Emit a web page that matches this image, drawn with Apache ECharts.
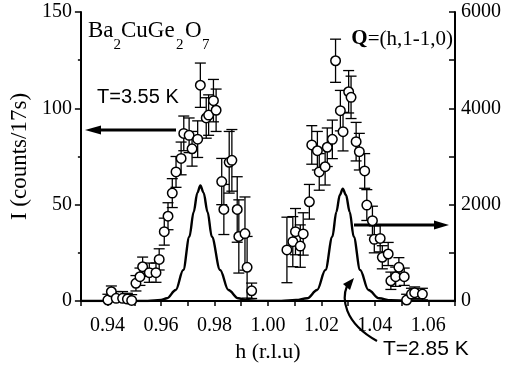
<!DOCTYPE html>
<html><head><meta charset="utf-8">
<script src="https://cdn.jsdelivr.net/npm/echarts@6/dist/echarts.min.js"></script>
<style>html,body{margin:0;padding:0;background:#fff}#c{width:506px;height:376px}</style>
</head><body><div id="c"></div>
<script>
// measured points (h, intensity, error) at T=3.55 K
const hVals = [0.9401,0.9414,0.9432,0.9456,0.9474,0.9490,0.9506,0.9521,0.9531,0.9556,0.9581,0.9593,0.9612,0.9626,0.9642,0.9656,0.9675,0.9685,0.9705,0.9716,0.9737,0.9747,0.9769,0.9778,0.9796,0.9806,0.9827,0.9835,0.9855,0.9865,0.9885,0.9891,0.9914,0.9922,0.9939,
  1.0071,1.0093,1.0103,1.0121,1.0132,1.0155,1.0164,1.0185,1.0192,1.0214,1.0222,1.0241,1.0253,1.0271,1.0281,1.0302,1.0311,1.0330,1.0342,1.0362,1.0370,1.0391,1.0398,1.0420,1.0428,1.0450,1.0460,1.0478,1.0490,1.0510,1.0519,1.0537,1.0549,1.0578];
const iVals = [0.5,4.8,1.4,1.4,1.0,0.3,9.2,12.6,17.8,14.7,14.7,21.6,36,44,56,67,74,87,86,79,84,112,95,96.5,104,99,62,47.5,72,73,47.5,33.5,35,17.5,5.3,
  26.5,30.8,36,28.5,34.8,51.5,81,78,67,69.7,79.8,83.9,124.7,98.8,87.9,108.6,105.7,82.7,77.5,67.5,49.8,41.7,32,32.5,22.7,24.4,10.5,12.6,17.5,12.6,0.5,3.6,4.3,3.6];
const eVals = [3,3,3.5,3.5,3,3,4,4.5,5,5,5,5.5,7,7,7.5,8,8.5,9,9,9,9.5,11.5,10.5,10.5,11,11,12,13,16,16,17,19,19,16,4,
  17,13,12,11,11,9,10,10,9.5,9.5,10,10,11.2,10.5,10,11,11,10,9.5,9,8,7.5,7,7,6,6,4.5,5,5,4.5,3,3,3,3];
// calculated curve at T=2.85 K (right axis)
const curveH = [0.930,0.955,0.960,0.9622,0.9655,0.9683,0.9706,0.9722,0.9736,0.9747,0.9759,0.9774,0.9790,0.9821,0.9852,0.9889,0.9917,0.996,1.005,1.0105,1.0147,1.0184,1.0215,1.0241,1.0256,1.0269,1.028,1.0292,1.0306,1.0321,1.0345,1.0376,1.0416,1.046,1.052,1.070];
const curveI = [0,0,20,56,228,643,1335,1850,2250,2400,2250,1850,1335,643,228,56,20,3,3,20,56,228,643,1335,1850,2200,2330,2200,1850,1335,643,228,56,15,3,0];
const xTickLabels = ['0.94','0.96','0.98','1.00','1.02','1.04','1.06'];
const yLeftTicks = ['0','50','100','150'];
const yRightTicks = ['0','2000','4000','6000'];

const SERIF = '"Liberation Serif", "Times New Roman", serif';
const SANS = '"Liberation Sans", Arial, sans-serif';
const chart = echarts.init(document.getElementById('c'), null, {renderer:'canvas'});

const pts = hVals.map((h,i)=>[h, iVals[i], eVals[i]]);
const curve = curveH.map((h,i)=>[h, curveI[i]]);

const axLine = {show:true, lineStyle:{color:'#000', width:2}};
const lblStyle = {color:'#000', fontFamily:SERIF, fontSize:20};

function txt(t, x, y, size){ return {type:'text', x:x, y:y, style:{text:t, font: size+'px '+SERIF, fill:'#000', verticalAlign:'middle', align:'left'}}; }

const option = {
  animation:false,
  backgroundColor:'#fff',
  grid:{left:77, right:51, top:12, bottom:75, containLabel:false},
  xAxis:[{
    type:'value', min:0.93, max:1.07, interval:0.01, position:'bottom',
    axisLine:axLine, splitLine:{show:false},
    axisTick:{show:true, inside:false, length:5, lineStyle:{color:'#000', width:1.5}},
    axisLabel:Object.assign({margin:15, showMinLabel:true, showMaxLabel:true, formatter:function(v){
      const s = v.toFixed(2); return xTickLabels.indexOf(s) >= 0 ? s : '';
    }}, lblStyle),
    name:'h (r.l.u)', nameLocation:'middle', nameGap:40,
    nameTextStyle:{color:'#000', fontFamily:SERIF, fontSize:22}
  },{
    type:'value', min:0.93, max:1.07, position:'top',
    axisLine:axLine, axisTick:{show:false}, axisLabel:{show:false}, splitLine:{show:false}
  }],
  yAxis:[{
    type:'value', min:0, max:150, interval:50, position:'left',
    axisLine:axLine, splitLine:{show:false},
    axisTick:{show:true, length:6, lineStyle:{color:'#000', width:1.5}},
    minorTick:{show:true, splitNumber:2, length:3, lineStyle:{color:'#000', width:1.5}},
    axisLabel:Object.assign({margin:9, formatter:function(v){const s=String(Math.round(v)); return yLeftTicks.indexOf(s)>=0?s:'';}}, lblStyle),
    name:'I (counts/17s)', nameLocation:'middle', nameGap:46, nameRotate:90,
    nameTextStyle:{color:'#000', fontFamily:SERIF, fontSize:23}
  },{
    type:'value', min:0, max:6000, interval:2000, position:'right',
    axisLine:axLine, splitLine:{show:false},
    axisTick:{show:true, inside:true, length:6, lineStyle:{color:'#000', width:1.5}},
    minorTick:{show:true, splitNumber:2, length:6, lineStyle:{color:'#000', width:1.5}},
    axisLabel:Object.assign({margin:6, formatter:function(v){const s=String(Math.round(v)); return yRightTicks.indexOf(s)>=0?s:'';}}, lblStyle)
  }],
  series:[{
    type:'line', xAxisIndex:0, yAxisIndex:1, data:curve, smooth:0.35, smoothMonotone:'x',
    showSymbol:false, symbol:'none', lineStyle:{color:'#000', width:2.4}, z:2
  },{
    type:'custom', xAxisIndex:0, yAxisIndex:0, data:pts, z:3,
    renderItem:function(params, api){
      const x = api.value(0), y = api.value(1), e = api.value(2);
      const top = api.coord([x, y+e]);
      const bot = api.coord([x, Math.max(0, y-e)]);
      const cw = 5.5;
      const st = {stroke:'#000', lineWidth:1.3};
      return {type:'group', children:[
        {type:'line', shape:{x1:top[0], y1:top[1], x2:bot[0], y2:bot[1]}, style:st},
        {type:'line', shape:{x1:top[0]-cw, y1:top[1], x2:top[0]+cw, y2:top[1]}, style:st},
        {type:'line', shape:{x1:bot[0]-cw, y1:bot[1], x2:bot[0]+cw, y2:bot[1]}, style:st}
      ]};
    }
  },{
    type:'scatter', xAxisIndex:0, yAxisIndex:0, data:pts.map(p=>[p[0],p[1]]), z:4,
    symbol:'circle', symbolSize:9.5,
    itemStyle:{color:'#fff', borderColor:'#000', borderWidth:1.5, opacity:1}
  }],
  graphic:[
    // compound name Ba2CuGe2O7
    txt('Ba',88,31,23), txt('2',113.5,45.5,15),
    txt('CuGe',121,31,23), txt('2',176,45.5,15),
    txt('O',185,31,23), txt('7',202,45.5,15),
    {type:'text', x:453, y:39, style:{text:'{q|Q}{n|=(h,1-1,0)}', align:'right', verticalAlign:'middle',
      rich:{q:{fontFamily:SERIF, fontSize:21, fontWeight:'bold', fill:'#000'}, n:{fontFamily:SERIF, fontSize:21, fill:'#000'}}}},
    {type:'text', x:97, y:97, style:{text:'T=3.55 K', font:'20px '+SANS, fill:'#000', verticalAlign:'middle', align:'left'}},
    {type:'text', x:383, y:349, style:{text:'T=2.85 K', font:'21px '+SANS, fill:'#000', verticalAlign:'middle', align:'left'}},
    // left arrow
    {type:'line', shape:{x1:99, y1:130, x2:176, y2:130}, style:{stroke:'#000', lineWidth:3}},
    {type:'polygon', shape:{points:[[85,130],[101,125.5],[101,134.5]]}, style:{fill:'#000'}},
    // right arrow
    {type:'line', shape:{x1:354, y1:225, x2:436, y2:225}, style:{stroke:'#000', lineWidth:3}},
    {type:'polygon', shape:{points:[[449,225],[434,220.5],[434,229.5]]}, style:{fill:'#000'}},
    // curved arrow to curve
    {type:'bezierCurve', shape:{x1:377, y1:341, x2:347, y2:286, cpx1:343, cpy1:322, cpx2:342, cpy2:298}, style:{stroke:'#000', lineWidth:2.2, fill:null}},
    {type:'polygon', shape:{points:[[354,278],[343,284],[350,290]]}, style:{fill:'#000'}}
  ]
};
chart.setOption(option);
</script></body></html>
